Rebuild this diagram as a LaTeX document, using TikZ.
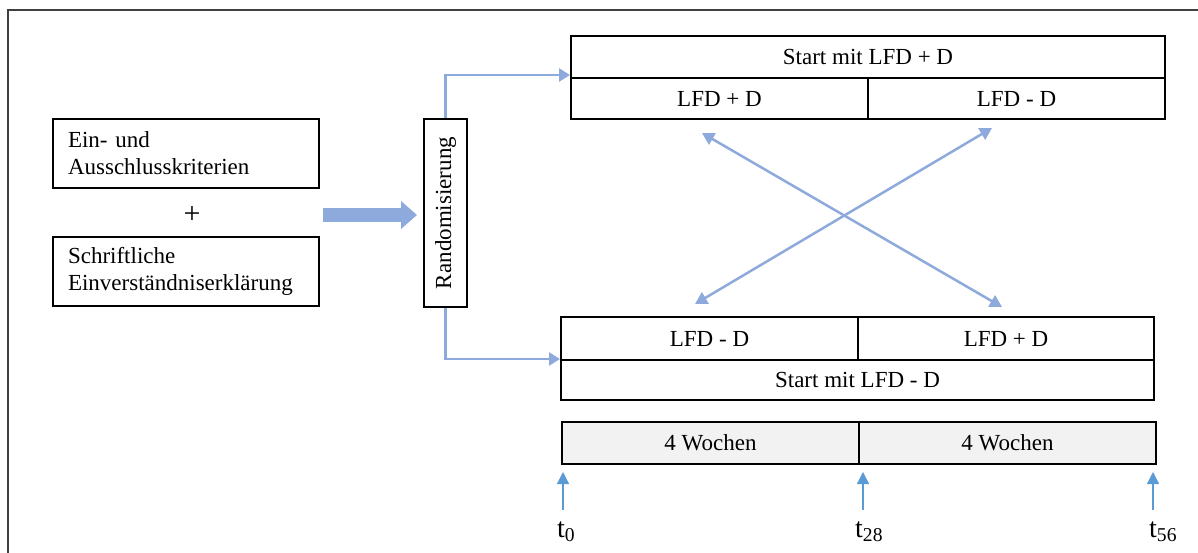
\documentclass[tikz,border=0pt]{standalone}
\usepackage{fontspec}
\setmainfont{Liberation Serif}
\usepackage{graphicx}
\usetikzlibrary{arrows.meta,calc}
\definecolor{conn}{HTML}{8EA9DB}
\definecolor{tblue}{HTML}{5B9BD5}
\definecolor{gfill}{HTML}{F2F2F2}
\definecolor{framegray}{HTML}{404040}
\begin{document}
\begin{tikzpicture}[x=1pt,y=-1pt,
  txt/.style={font=\fontsize{23}{27}\selectfont},
  leftbox/.style={txt,draw=black,line width=2pt,anchor=north west,inner xsep=15pt,inner ysep=0pt,
    text width=236pt,minimum height=69pt,align=left},
  cell/.style={txt,draw=black,line width=2pt,anchor=north west,inner sep=0pt},
  connector/.style={draw=conn,line width=2.5pt,-{Triangle[length=11pt,width=13pt]}},
  cross/.style={draw=conn,line width=2.5pt,{Triangle[length=12pt,width=13pt]}-{Triangle[length=12pt,width=13pt]}},
  bigarrow/.style={draw=conn,line width=14pt,-{Triangle[length=16pt,width=27pt]}},
  tarrow/.style={draw=tblue,line width=1.3pt,-{Triangle[length=12pt,width=12pt]}},
  tlab/.style={font=\fontsize{28}{34}\selectfont,anchor=base west,inner sep=0pt},
  frame/.style={draw=framegray,line width=1.4pt}]
\useasboundingbox (0,0) rectangle (1198,553);
\draw[frame] (1198,10) -- (8,10) -- (8,553);

% left boxes
\node[leftbox] (crit) at (52,118) {Ein- und\\Ausschlusskriterien};
\node[font=\fontsize{30}{34}\selectfont] (plus) at (192,215) {+};
\node[leftbox] (consent) at (52,236) {Schriftliche\\Einverständniserklärung};

% randomisation
\node[cell,minimum width=43pt,minimum height=188pt] (random) at (423,118) {\rotatebox{90}{Randomisierung}};

% top group
\node[cell,minimum width=594pt,minimum height=42pt] (topstart) at (570,35) {Start mit LFD + D};
\node[cell,minimum width=297pt,minimum height=41pt] (topL) at (570,77) {LFD + D};
\node[cell,minimum width=297pt,minimum height=41pt] (topR) at (867,77) {LFD - D};

% bottom group
\node[cell,minimum width=297pt,minimum height=43pt] (botL) at (560,316) {LFD - D};
\node[cell,minimum width=296pt,minimum height=43pt] (botR) at (857,316) {LFD + D};
\node[cell,minimum width=593pt,minimum height=40pt] (botstart) at (560,359) {Start mit LFD - D};

% timeline
\node[cell,fill=gfill,minimum width=297pt,minimum height=42pt] (w1) at (561,421) {4 Wochen};
\node[cell,fill=gfill,minimum width=297pt,minimum height=42pt] (w2) at (858,421) {4 Wochen};

% time labels
\node[tlab] (t0) at (557,537) {t\textsubscript{0}};
\node[tlab] (t28) at (855,537) {t\textsubscript{28}};
\node[tlab] (t56) at (1149,537) {t\textsubscript{56}};
\coordinate (a0) at (563,510);
\coordinate (a28) at (863,510);
\coordinate (a56) at (1153,510);
\draw[tarrow,shorten >=7pt] (a0) -- (a0 |- w1.south);
\draw[tarrow,shorten >=7pt] (a28) -- (a28 |- w2.south);
\draw[tarrow,shorten >=7pt] (a56) -- (a56 |- w2.south);

% thick arrow
\coordinate (ta) at (323,215);
\draw[bigarrow,shorten >=6pt] (ta) -- (ta -| random.west);

% connectors
\draw[connector] (random.north) |- ([yshift=4pt]topstart.south west);
\draw[connector] (random.south) |- (botstart.north west);

% crossing arrows
\coordinate (c1) at (702,133);
\coordinate (c2) at (1002,307);
\coordinate (c3) at (992,128);
\coordinate (c4) at (695,304);
\draw[cross] (c1) -- (c2);
\draw[cross] (c3) -- (c4);
\end{tikzpicture}
\end{document}
